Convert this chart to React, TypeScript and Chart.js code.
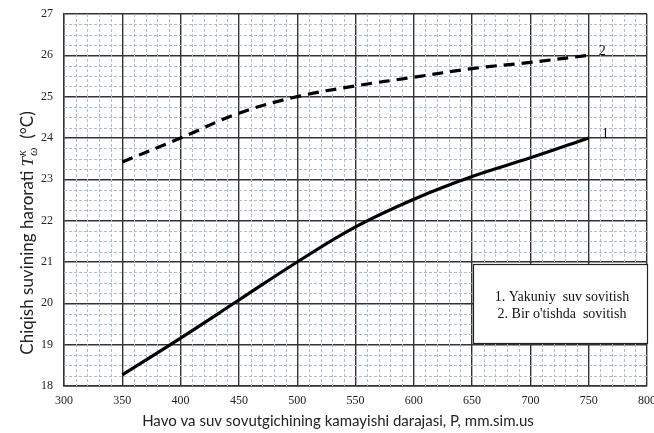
import React, { useEffect, useRef } from "react";
import { Chart, registerables } from "chart.js";

Chart.register(...registerables);

const pressures = [350, 400, 450, 500, 550, 600, 650, 700, 750];
const finalCooling = [18.27, 19.16, 20.08, 21.0, 21.85, 22.52, 23.07, 23.52, 24.0];
const singlePassCooling = [23.42, 24.0, 24.6, 25.0, 25.26, 25.47, 25.68, 25.83, 26.0];
const curveLabels = ["1", "2"];
const legendLines = ["1. Yakuniy  suv sovitish", "2. Bir o'tishda  sovitish"];
const xTitle = "Havo va suv sovutgichining kamayishi darajasi, P, mm.sim.us";
const yTitleMain = "Chiqish suvining harorati ";
const yTitleUnit = "  (°C)";

const minorGrid = {
  id: "minorGrid",
  beforeDatasetsDraw(chart: any) {
    const { ctx, chartArea: a, scales } = chart;
    const x = scales.x, y = scales.y;
    ctx.save();
    ctx.strokeStyle = "#a9bcdc";
    ctx.lineWidth = 1;
    ctx.setLineDash([3, 2]);
    for (let v = 300; v <= 800; v += 10) {
      if (v % 50 === 0) continue;
      const px = Math.round(x.getPixelForValue(v)) + 0.5;
      ctx.beginPath(); ctx.moveTo(px, a.top); ctx.lineTo(px, a.bottom); ctx.stroke();
    }
    for (let v = 18; v <= 27.001; v += 0.25) {
      if (Math.abs(v - Math.round(v)) < 1e-6) continue;
      const py = Math.round(y.getPixelForValue(v)) + 0.5;
      ctx.beginPath(); ctx.moveTo(a.left, py); ctx.lineTo(a.right, py); ctx.stroke();
    }
    ctx.restore();
  },
};

const extras = {
  id: "extras",
  afterDraw(chart: any) {
    const { ctx, chartArea: a, scales } = chart;
    const x = scales.x, y = scales.y;
    ctx.save();
    // curve labels
    ctx.fillStyle = "#111";
    ctx.font = "14px 'Liberation Serif'";
    ctx.textAlign = "left";
    ctx.textBaseline = "middle";
    const lx = x.getPixelForValue(pressures[pressures.length - 1]);
    ctx.fillText(curveLabels[0], lx + 13, y.getPixelForValue(finalCooling[finalCooling.length - 1]) - 4);
    ctx.fillText(curveLabels[1], lx + 10, y.getPixelForValue(singlePassCooling[singlePassCooling.length - 1]) - 4);

    // legend box
    const bx = 473, by = 264, bw = a.right - 473, bh = 79;
    ctx.fillStyle = "#fff";
    ctx.fillRect(bx, by, bw, bh);
    ctx.strokeStyle = "#222";
    ctx.lineWidth = 1.2;
    ctx.strokeRect(bx + 0.5, by + 0.5, bw, bh);
    ctx.fillStyle = "#111";
    ctx.font = "14px 'Liberation Serif'";
    ctx.textAlign = "center";
    ctx.fillText(legendLines[0], bx + bw / 2 + 2, by + 33);
    ctx.fillText(legendLines[1], bx + bw / 2 + 2, by + 50);

    // x title
    ctx.font = "15px Lato";
    ctx.fillStyle = "#222";
    ctx.textAlign = "center";
    ctx.fillText(xTitle, 338, 421);

    // y title with super/subscript
    ctx.translate(27, 233);
    ctx.rotate(-Math.PI / 2);
    const fMain = "17px Lato";
    const fT = "italic 17px 'Liberation Serif'";
    const fSmall = "italic 12px 'Liberation Serif'";
    ctx.font = fMain; const w1 = ctx.measureText(yTitleMain).width;
    ctx.font = fT; const w2 = ctx.measureText("T").width;
    ctx.font = fSmall; const w3 = Math.max(ctx.measureText("к").width, ctx.measureText("ω").width);
    ctx.font = fMain; const w4 = ctx.measureText(yTitleUnit).width;
    const total = w1 + w2 + w3 + 1 + w4;
    let cx = -total / 2;
    ctx.textAlign = "left";
    ctx.textBaseline = "alphabetic";
    const base = 6;
    ctx.font = fMain; ctx.fillText(yTitleMain, cx, base); cx += w1;
    ctx.font = fT; ctx.fillText("T", cx, base); cx += w2 + 1;
    ctx.font = fSmall; ctx.fillText("к", cx, base - 7); ctx.fillText("ω", cx, base + 4); cx += w3;
    ctx.font = fMain; ctx.fillText(yTitleUnit, cx, base);
    ctx.restore();
  },
};

export default function App() {
  const ref = useRef<HTMLCanvasElement>(null);
  useEffect(() => {
    document.body.style.margin = "0";
    const chart = new Chart(ref.current!, {
      type: "line",
      data: {
        datasets: [
          {
            data: pressures.map((p, i) => ({ x: p, y: finalCooling[i] })),
            borderColor: "#000",
            borderWidth: 3.2,
            pointRadius: 0,
            tension: 0.4,
            fill: false,
          },
          {
            data: pressures.map((p, i) => ({ x: p, y: singlePassCooling[i] })),
            borderColor: "#000",
            borderWidth: 3.2,
            borderDash: [11, 7],
            pointRadius: 0,
            tension: 0.4,
            fill: false,
          },
        ],
      },
      options: {
        animation: false,
        responsive: false,
        layout: { padding: { top: 14, right: 7, left: 0, bottom: 0 } },
        plugins: { legend: { display: false }, tooltip: { enabled: false } },
        scales: {
          x: {
            type: "linear",
            min: 300,
            max: 800,
            ticks: {
              stepSize: 50,
              padding: 8,
              color: "#222",
              font: { family: "'Liberation Serif'", size: 12 },
            },
            grid: { color: "#333", lineWidth: 1.4, drawTicks: false },
            border: { color: "#333", width: 1.4 },
            afterFit(s: any) { s.height = 47; s.paddingLeft = 0; s.paddingRight = 0; },
          },
          y: {
            min: 18,
            max: 27,
            ticks: {
              stepSize: 1,
              padding: 11,
              color: "#222",
              font: { family: "'Liberation Serif'", size: 12 },
            },
            grid: { color: "#333", lineWidth: 1.4, drawTicks: false },
            border: { color: "#333", width: 1.4 },
            afterFit(s: any) { s.width = 64; s.paddingTop = 0; s.paddingBottom = 0; },
          },
        },
      },
      plugins: [minorGrid, extras],
    } as any);
    return () => chart.destroy();
  }, []);
  return (
    <div style={{ position: "absolute", left: 0, top: 0, width: 654, height: 433 }}>
      <canvas ref={ref} width={654} height={433} style={{ width: 654, height: 433 }} />
    </div>
  );
}
